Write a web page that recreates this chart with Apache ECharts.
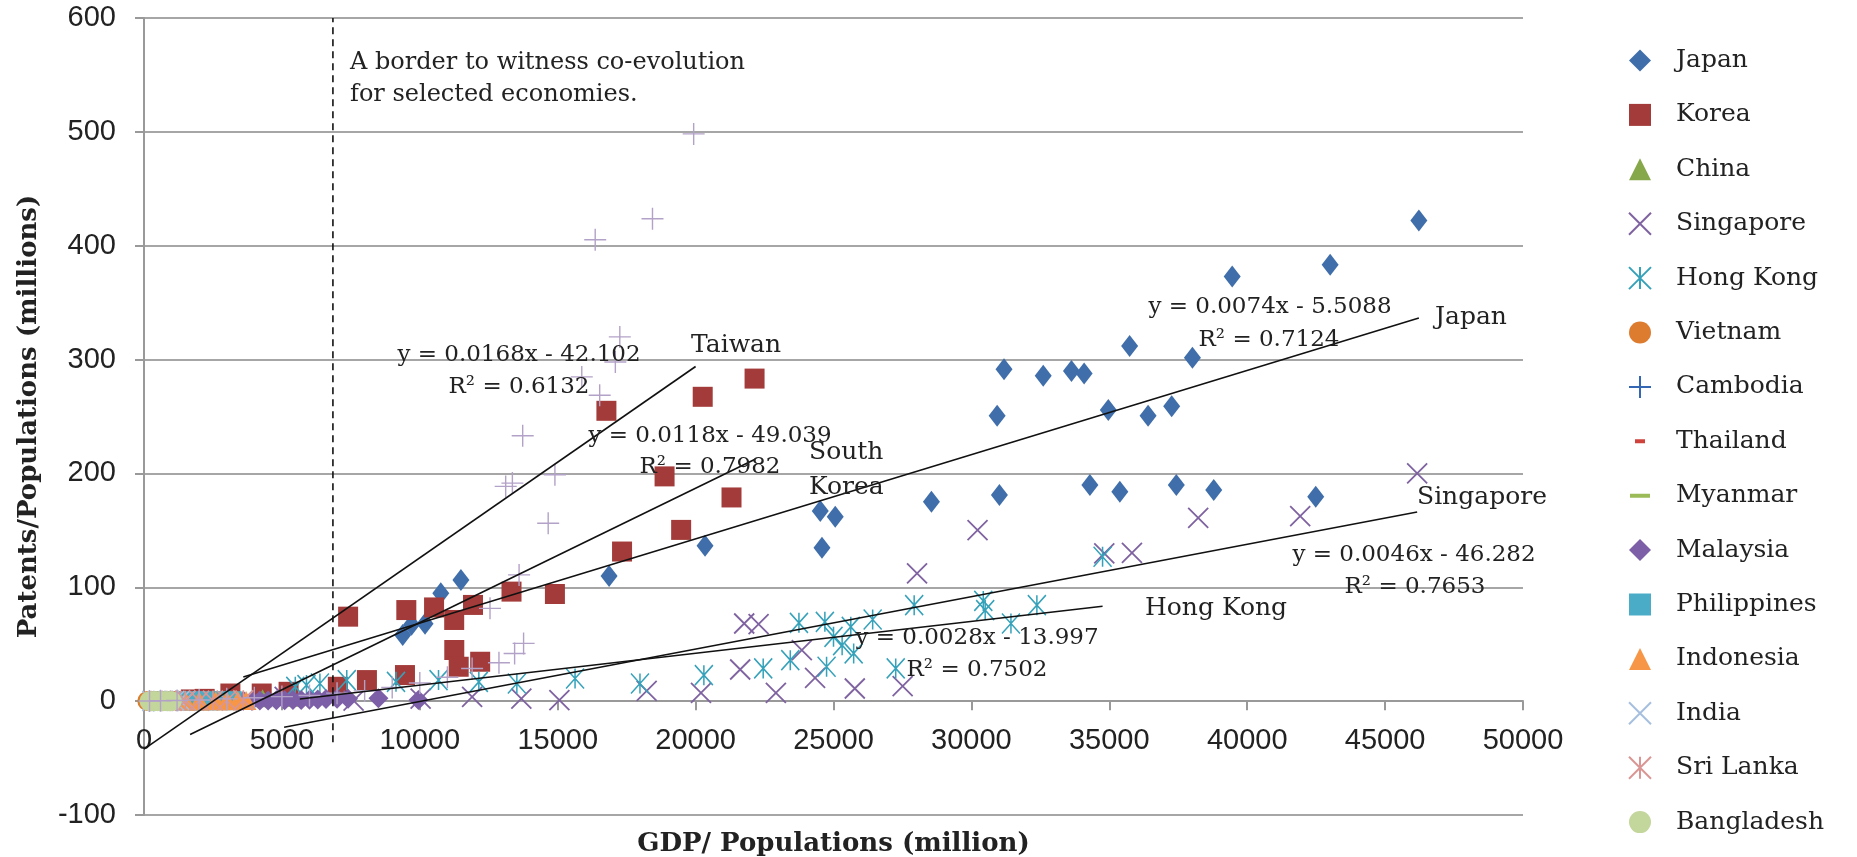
<!DOCTYPE html>
<html>
<head>
<meta charset="utf-8">
<title>Patents vs GDP</title>
<script src="https://cdn.jsdelivr.net/npm/echarts@6/dist/echarts.min.js"></script>
<style>
  html, body { margin: 0; padding: 0; background: #fff; }
  #smart_1 { width: 1857px; height: 857px; }
</style>
</head>
<body>
<div id="smart_1"></div>
<script>
// 数据：GDP / 人口 (x) 与 专利 / 人口 (y)
var japan = [[9380, 58], [9700, 67], [10190, 68], [10761, 94.7], [11491, 106.5], [16863, 110], [20342, 136.5],
  [24520, 166.9], [24582, 134.7], [25063, 161.9], [28551, 175.1], [30933, 250.6], [31016, 181], [31183, 291.5],
  [32604, 285.7], [33628, 290], [34087, 287.7], [34296, 189.8], [34964, 255.6], [35382, 183.9], [35737, 312],
  [36406, 250.6], [37262, 259.1], [37430, 189.8], [38014, 301.5], [38787, 185.4], [39456, 373], [42485, 179.5],
  [43007, 383.3], [46224, 422.2]];
var korea = [[1700, 1.5], [2200, 2], [3132, 6.7], [4268, 6.7], [5242, 8.2], [7028, 12.6], [7401, 74.2], [8083, 18.5],
  [9462, 22.9], [9511, 80], [10517, 82.3], [11247, 71.3], [11250, 44.9], [11410, 30.2], [11929, 84.5], [12189, 34.6],
  [13325, 96.2], [14899, 94.1], [16766, 255], [17333, 131.4], [18875, 197.4], [19476, 150.4], [20258, 267.3],
  [21302, 178.9], [22138, 283.3]];
var china = [[600, 0.2], [900, 0.3], [1300, 0.5], [1800, 0.8], [2500, 1.2], [3300, 1.8], [4300, 2.5], [5400, 3]];
var singapore = [[5100, 3.8], [7600, 0.5], [10030, 2.3], [11897, 3.8], [13682, 2.3], [15061, 0.9], [18226, 9.1],
  [20195, 7.3], [21616, 27.8], [21762, 68.2], [22284, 67.6], [22911, 7.3], [23851, 44.8], [24332, 20.5],
  [25773, 11.1], [27507, 13.2], [28029, 112.2], [30223, 150.2], [34818, 129.7], [35821, 130.3], [38223, 161],
  [41921, 162.5], [46162, 200]];
var hongKong = [[5486, 12.6], [5891, 14.1], [6378, 15.5], [7352, 18.5], [9137, 17], [10679, 18.5], [12140, 17],
  [13519, 15.5], [15629, 19.9], [17983, 15.5], [20300, 22.8], [22451, 28.7], [23433, 36], [23747, 68.8],
  [24687, 69.7], [24749, 30.2], [25000, 56.5], [25313, 49.2], [25627, 65.3], [25731, 41.9], [26420, 71.7],
  [27256, 28.7], [27925, 84.3], [30431, 88], [30500, 80], [31434, 68.2], [32374, 84.3], [34756, 126.8]];
var vietnam = [[120, 0.1], [250, 0.1], [400, 0.2], [600, 0.2], [800, 0.3], [1000, 0.4], [1200, 0.5]];
var cambodia = [[200, 0], [350, 0], [500, 0.1], [700, 0.1], [900, 0.1]];
var thailand = [[1500, 0.3], [2200, 0.5], [3000, 0.8], [3800, 1], [4600, 1.2], [5400, 1.5]];
var myanmar = [[150, 0], [300, 0], [500, 0], [700, 0], [900, 0]];
var malaysia = [[3600, 0.3], [3900, 0.4], [4200, 0.5], [4500, 0.6], [4800, 0.7], [5100, 0.8], [5400, 1],
  [5700, 1.1], [6000, 1.2], [6300, 1.5], [6600, 1.8], [7000, 2], [7400, 2.2], [8500, 2.5], [9950, 1]];
var philippines = [[1500, 0.2], [1800, 0.2], [2100, 0.3], [2400, 0.3], [2800, 0.4], [3200, 0.4]];
var indonesia = [[1500, 0.1], [2000, 0.2], [2600, 0.3], [3000, 0.4], [3400, 0.5], [3700, 0.6]];
var india = [[300, 0.1], [500, 0.1], [700, 0.2], [900, 0.2], [1100, 0.3], [1300, 0.4], [1500, 0.5]];
var sriLanka = [[600, 0.1], [1000, 0.2], [1500, 0.3], [2000, 0.4], [2500, 0.5], [3000, 0.6], [3600, 0.7]];
var bangladesh = [[200, 0], [300, 0], [400, 0], [500, 0], [600, 0], [700, 0], [800, 0], [900, 0], [1000, 0]];
var taiwan = [[200, 0.1], [600, 0.3], [1200, 0.6], [2000, 1], [3000, 2], [4000, 3], [5000, 4], [6000, 5], [7000, 7],
  [8000, 9], [9000, 12], [10000, 16], [11000, 21], [11897, 28.7], [12546, 81.5], [12870, 33.7], [13114, 188.6],
  [13357, 191.5], [13438, 41.9], [13600, 110.9], [13731, 233.1], [13763, 50.7], [14655, 156.3], [14899, 198.8],
  [15873, 284.8], [16360, 405.3], [16522, 268.7], [17090, 297.9], [17252, 319.9], [18437, 423.7], [19930, 498.2]];

// 趋势线: 斜率, 截距, 起点x, 终点x
var trendJapan = [0.0074, -5.5088, 3600, 46224];
var trendKorea = [0.0118, -49.039, 1672, 22138];
var trendTaiwan = [0.0168, -42.102, 0, 20000];
var trendSingapore = [0.0046, -46.282, 5080, 46162];
var trendHongKong = [0.0028, -13.997, 5650, 34756];

// 虚线边界 x, y下限, y上限
var borderLine = [6850, -36, 600];

var xTicks = { min: 0, max: 50000, interval: 5000 };
var yTicks = { min: -100, max: 600, interval: 100 };

function trend(t) {
  return [[t[2], t[0] * t[2] + t[1]], [t[3], t[0] * t[3] + t[1]]];
}

function smart_1() {
  var myChart = echarts.init(document.querySelector("#smart_1"));
  var xMark = 'path://M0,0L10,10M10,0L0,10';
  var plusMark = 'path://M5,0L5,10M0,5L10,5';
  var starMark = 'path://M0,0L10,10M10,0L0,10M5,0L5,10';
  // 图例里的短横线（四角留空点保持比例）
  var shortDash = 'path://M0,0L0.01,0M6,9L16,9L16,13L6,13ZM22,22L22.01,22';
  var longDash = 'path://M0,0L0.01,0M1,9L21,9L21,13L1,13ZM22,22L22.01,22';
  var serif = "DejaVu Serif";

  function pts(name, data, symbol, size, color, stroke) {
    var s = {
      name: name,
      type: "scatter",
      data: data,
      symbol: symbol,
      symbolSize: size,
      itemStyle: { color: color, opacity: 1 }
    };
    if (stroke) {
      s.itemStyle = { color: "rgba(0,0,0,0)", borderColor: color, borderWidth: stroke, opacity: 1 };
    }
    return s;
  }

  function tline(name, t) {
    return {
      name: name,
      type: "line",
      data: trend(t),
      symbol: "none",
      silent: true,
      z: 5,
      lineStyle: { color: "#111", width: 1.6 }
    };
  }

  var names = ["Japan", "Korea", "China", "Singapore", "Hong Kong", "Vietnam", "Cambodia",
    { name: "Thailand", icon: shortDash }, { name: "Myanmar", icon: longDash },
    "Malaysia", "Philippines", "Indonesia", "India", "Sri Lanka", "Bangladesh"];

  function txt(x, y, s, size, align) {
    return {
      type: "text",
      x: x,
      y: y,
      style: {
        text: s,
        fill: "#222",
        font: size + "px '" + serif + "'",
        align: align || "left",
        verticalAlign: "middle"
      },
      z: 10
    };
  }

  option = {
    animation: false,
    textStyle: { fontFamily: serif },
    grid: {
      left: 144,
      right: 334,
      top: 18,
      bottom: 42,
      containLabel: false,
      outerBoundsMode: "none"
    },
    legend: {
      data: names,
      orient: "vertical",
      left: 1623,
      top: 43,
      itemWidth: 22,
      itemHeight: 22,
      itemGap: 29.4,
      selectedMode: false,
      textStyle: {
        color: "#222",
        fontSize: 25,
        fontFamily: serif,
        padding: [0, 0, 0, 20]
      }
    },
    xAxis: {
      type: "value",
      min: xTicks.min,
      max: xTicks.max,
      interval: xTicks.interval,
      name: "GDP/ Populations (million)",
      nameLocation: "middle",
      nameGap: 16,
      nameTextStyle: { fontFamily: serif, fontWeight: "bold", fontSize: 26, color: "#222" },
      axisLine: { onZero: true, lineStyle: { color: "#999", width: 2 } },
      axisTick: { show: true, length: 9, lineStyle: { color: "#999", width: 2 } },
      axisLabel: {
        fontFamily: "Liberation Sans", fontSize: 29, color: "#222", margin: -89,
        formatter: function (v) { return String(v); }
      },
      splitLine: { show: false }
    },
    yAxis: {
      type: "value",
      min: yTicks.min,
      max: yTicks.max,
      interval: yTicks.interval,
      name: "Patents/Populations (millions)",
      nameLocation: "middle",
      nameGap: 102,
      nameTextStyle: { fontFamily: serif, fontWeight: "bold", fontSize: 26, color: "#222" },
      axisLine: { show: true, lineStyle: { color: "#999", width: 2 } },
      axisTick: { show: true, length: 9, lineStyle: { color: "#999", width: 2 } },
      axisLabel: { fontFamily: "Liberation Sans", fontSize: 29, color: "#222", margin: 28 },
      splitLine: { lineStyle: { color: "#A6A6A6", width: 2 } }
    },
    graphic: [
      txt(350, 63, "A border to witness co-evolution", 24),
      txt(350, 95, "for selected economies.", 24),
      txt(519, 355, "y = 0.0168x - 42.102", 23, "center"),
      txt(519, 387, "R² = 0.6132", 23, "center"),
      txt(691, 345, "Taiwan", 25),
      txt(710, 436, "y = 0.0118x - 49.039", 23, "center"),
      txt(710, 467, "R² = 0.7982", 23, "center"),
      txt(809, 452, "South", 25),
      txt(809, 487, "Korea", 25),
      txt(1270, 307, "y = 0.0074x - 5.5088", 23, "center"),
      txt(1269, 340, "R² = 0.7124", 23, "center"),
      txt(1435, 317, "Japan", 25),
      txt(1417, 497, "Singapore", 25),
      txt(1414, 555, "y = 0.0046x - 46.282", 23, "center"),
      txt(1415, 587, "R² = 0.7653", 23, "center"),
      txt(1145, 608, "Hong Kong", 25),
      txt(977, 638, "y = 0.0028x - 13.997", 23, "center"),
      txt(977, 670, "R² = 0.7502", 23, "center")
    ],
    series: [
      pts("Japan", japan, "diamond", [17, 22], "#3F6EAA"),
      pts("Korea", korea, "rect", [20, 20], "#A23B39"),
      pts("China", china, "triangle", [20, 18], "#86A84A"),
      pts("Singapore", singapore, xMark, [20, 20], "#7F63A1", 1.8),
      pts("Hong Kong", hongKong, starMark, [18, 20], "#35A2BA", 1.6),
      pts("Vietnam", vietnam, "circle", 20, "#DD7B2F"),
      pts("Cambodia", cambodia, plusMark, [20, 20], "#3366B3", 1.6),
      pts("Thailand", thailand, "rect", [9, 3], "#D0433D"),
      pts("Myanmar", myanmar, "rect", [18, 3], "#9BBB59"),
      pts("Malaysia", malaysia, "diamond", [20, 20], "#7D5FA8"),
      pts("Philippines", philippines, "rect", [19, 19], "#4AACC6"),
      pts("Indonesia", indonesia, "triangle", [21, 19], "#F79646"),
      pts("India", india, xMark, [20, 20], "#A7BFDE", 1.6),
      pts("Sri Lanka", sriLanka, starMark, [20, 20], "#D99694", 1.6),
      pts("Bangladesh", bangladesh, "circle", 20, "#C3D69B"),
      pts("Taiwan", taiwan, plusMark, [22, 22], "#B3A2C7", 1.4),
      tline("trend Japan", trendJapan),
      tline("trend Korea", trendKorea),
      tline("trend Taiwan", trendTaiwan),
      tline("trend Singapore", trendSingapore),
      tline("trend Hong Kong", trendHongKong),
      {
        name: "border",
        type: "line",
        data: [[borderLine[0], borderLine[1]], [borderLine[0], borderLine[2]]],
        symbol: "none",
        silent: true,
        z: 4,
        lineStyle: { color: "#111", width: 1.6, type: [7, 5] }
      }
    ]
  };

  myChart.setOption(option);

  window.addEventListener("resize", function () {
    myChart.resize();
  });
}
smart_1();
</script>
</body>
</html>
